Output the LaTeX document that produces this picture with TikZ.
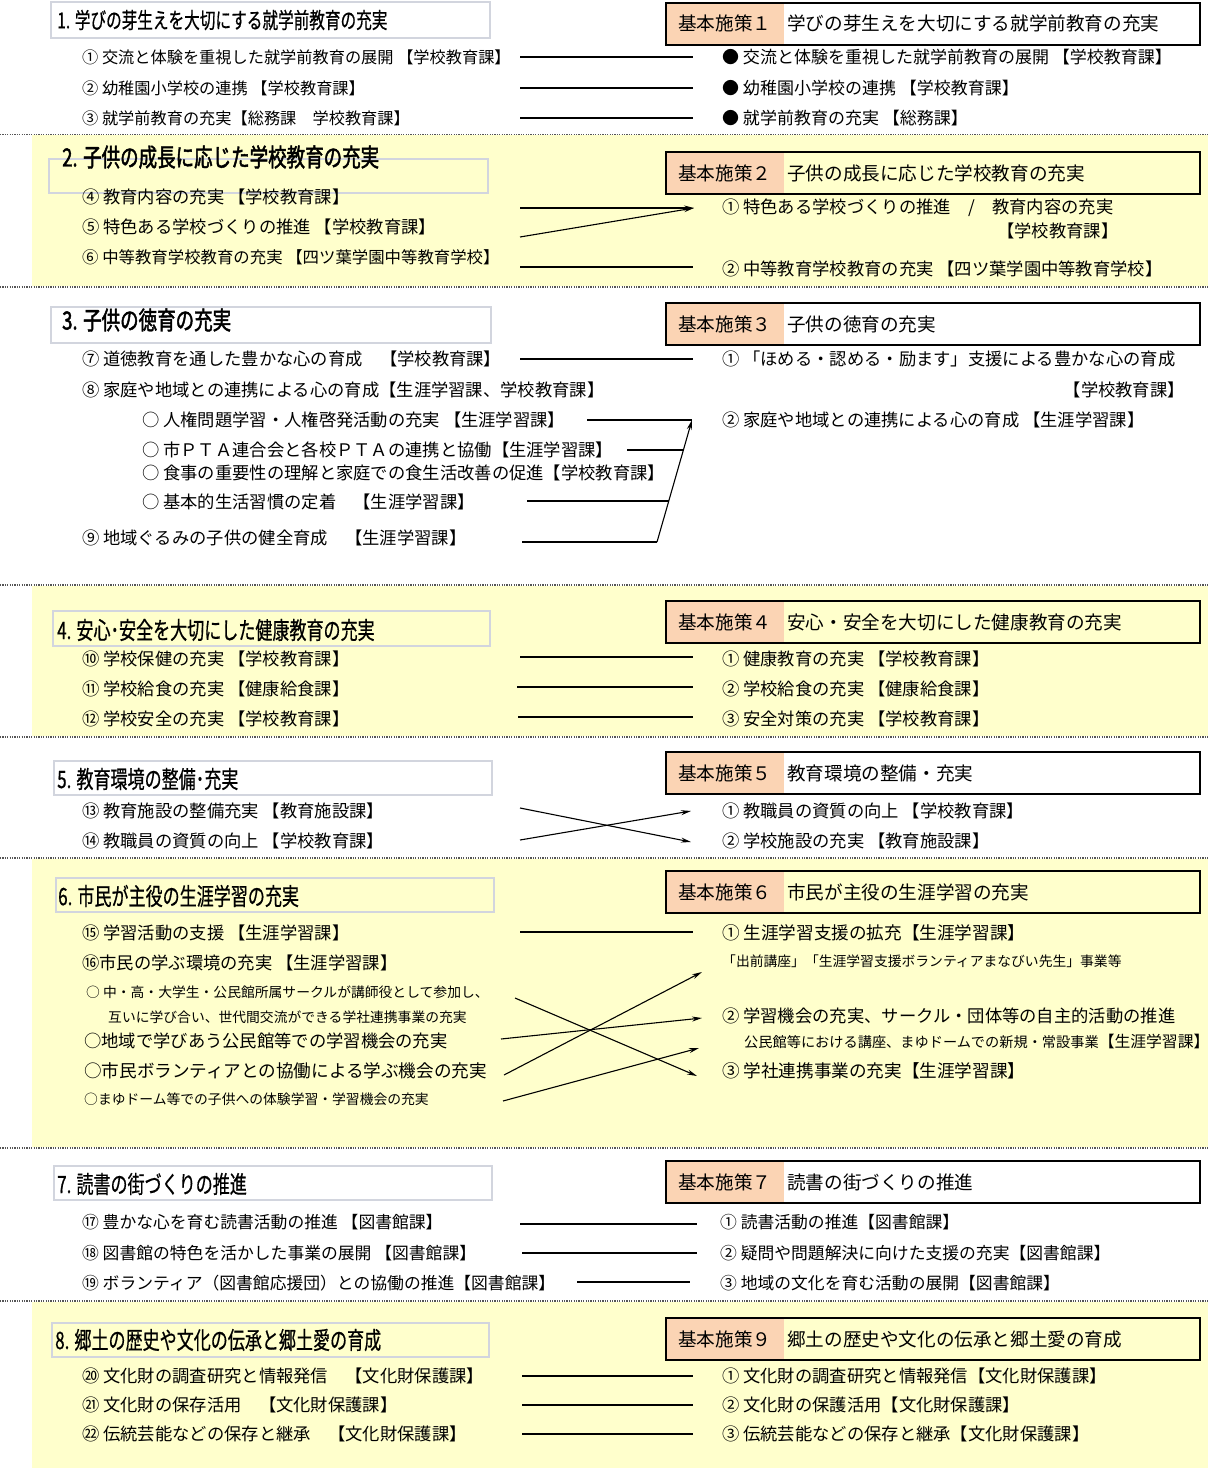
\documentclass[tikz,border=0pt]{standalone}
\usepackage{fontspec}
\setmainfont{Noto Sans CJK JP}
\newfontfamily\hdfont[FakeStretch=0.71,FakeBold=0.6]{Noto Sans CJK JP}
\newfontfamily\hdbfont[FakeStretch=0.74,FakeBold=1.8]{Noto Sans CJK JP}
\usetikzlibrary{arrows.meta}
\newcommand\myfs[1]{\fontsize{#1}{#1}\selectfont}
\definecolor{yel}{HTML}{FFFFCC}
\definecolor{peach}{HTML}{FBD4B4}
\definecolor{boxgray}{HTML}{D2D5DE}
\definecolor{sepgray}{HTML}{555555}
\tikzset{
  it/.style={anchor=west,inner sep=0pt,font=\myfs{17.3}},
  its/.style={anchor=west,inner sep=0pt,font=\myfs{13.8}},
  hd/.style={anchor=west,inner sep=0pt,font=\hdfont\myfs{24}},
  hdb/.style={anchor=west,inner sep=0pt,font=\hdbfont\myfs{25}},
  kb/.style={anchor=west,inner sep=0pt,font=\myfs{18.6}},
  hbox/.style={draw=boxgray,line width=1.8pt},
  kframe/.style={draw=black,line width=2pt},
  sep/.style={draw=sepgray,line width=1.6pt,dash pattern=on 1.2pt off 1.2pt},
  ln/.style={draw=black,line width=1.1pt},
  arr/.style={ln,-{Stealth[length=10pt,width=5pt]}}
}
% right-hand box: name, centre y, number, title
\newcommand\kbox[4]{%
  \fill[peach] (666,#2-21) rectangle (784,#2+21);
  \draw[kframe] (666,#2-21) rectangle (1200,#2+21);
  \node[kb] (#1n) at (678,#2) {基本施策#3};
  \node[kb] (#1t) at (787,#2) {#4};
}
% connector: name, start, end, style
\newcommand\conn[4][ln]{%
  \coordinate (#2a) at (#3);
  \coordinate (#2b) at (#4);
  \draw[#1] (#2a) -- (#2b);
}
\begin{document}
\begin{tikzpicture}[x=1pt,y=-1pt]
\useasboundingbox (0,0) rectangle (1208,1468);
\fill[white] (0,0) rectangle (1208,1468);
% yellow bands
\fill[yel] (32,135) rectangle (1208,286);
\fill[yel] (32,586) rectangle (1208,736);
\fill[yel] (32,859) rectangle (1208,1147);
\fill[yel] (32,1302) rectangle (1208,1468);
% separators
\foreach \yy in {134.5,287,585,737,858,1148,1301}
  \draw[sep] (0,\yy) -- (1208,\yy);

% ================= Section 1
\draw[hbox] (51,2) rectangle (490,38);
\node[hd,font=\hdfont\myfs{22}] (h1) at (57,20) {1. 学びの芽生えを大切にする就学前教育の充実};
\node[it,font=\myfs{16.2}] (a1) at (82,57) {① 交流と体験を重視した就学前教育の展開 【学校教育課】};
\node[it,font=\myfs{16.2}] (a2) at (82,88) {② 幼稚園小学校の連携 【学校教育課】};
\node[it,font=\myfs{16.2}] (a3) at (82,118) {③ 就学前教育の充実【総務課　学校教育課】};
\kbox{k1}{23.5}{１}{学びの芽生えを大切にする就学前教育の充実}
\node[it,font=\myfs{17}] (b1) at (722,57) {● 交流と体験を重視した就学前教育の展開 【学校教育課】};
\node[it,font=\myfs{17}] (b2) at (722,88) {● 幼稚園小学校の連携 【学校教育課】};
\node[it,font=\myfs{17}] (b3) at (722,118) {● 就学前教育の充実 【総務課】};
\conn{c1}{520,57}{693,57}
\conn{c2}{520,88}{693,88}
\conn{c3}{520,118}{693,118}

% ================= Section 2
\draw[hbox] (49,159) rectangle (488,193);
\node[hdb] (h2) at (62,157) {2. 子供の成長に応じた学校教育の充実};
\node[it] (a4) at (82,197) {④ 教育内容の充実 【学校教育課】};
\node[it] (a5) at (82,227) {⑤ 特色ある学校づくりの推進 【学校教育課】};
\node[it,font=\myfs{16.4}] (a6) at (82,257) {⑥ 中等教育学校教育の充実 【四ツ葉学園中等教育学校】};
\kbox{k2}{173}{２}{子供の成長に応じた学校教育の充実}
\node[it] (b4) at (722,208) {① 特色ある学校づくりの推進　/　教育内容の充実};
\node[it] (b4x) at (997,231) {【学校教育課】};
\node[it] (b5) at (722,269) {② 中等教育学校教育の充実 【四ツ葉学園中等教育学校】};
\conn[arr]{c4}{520,208}{694,208}
\conn[arr]{c5}{520,237}{694,208}
\conn{c6}{520,267}{693,267}

% ================= Section 3
\draw[hbox] (51,307) rectangle (491,343);
\node[hdb] (h3) at (62,320) {3. 子供の徳育の充実};
\node[it] (a7) at (82,359) {⑦ 道徳教育を通した豊かな心の育成　【学校教育課】};
\node[it] (a8) at (82,390) {⑧ 家庭や地域との連携による心の育成【生涯学習課、学校教育課】};
\node[it] (a8a) at (142,420) {○ 人権問題学習・人権啓発活動の充実 【生涯学習課】};
\node[it] (a8b) at (142,450) {○ 市ＰＴＡ連合会と各校ＰＴＡの連携と協働【生涯学習課】};
\node[it] (a8c) at (142,473) {○ 食事の重要性の理解と家庭での食生活改善の促進【学校教育課】};
\node[it] (a8d) at (142,502) {○ 基本的生活習慣の定着　【生涯学習課】};
\node[it] (a9) at (82,538) {⑨ 地域ぐるみの子供の健全育成　【生涯学習課】};
\kbox{k3}{324}{３}{子供の徳育の充実}
\node[it] (b6) at (722,359) {① 「ほめる・認める・励ます」支援による豊かな心の育成};
\node[it,anchor=east] (b6x) at (1185,390) {【学校教育課】};
\node[it] (b7) at (722,420) {② 家庭や地域との連携による心の育成 【生涯学習課】};
\conn{c7}{520,359}{693,359}
\conn{c8}{587,420}{692,420}
\conn{c9}{627,450}{684,450}
\conn{c10}{527,501}{669,501}
\conn{c11}{522,542}{657,542}
\draw[arr] (c11b) -- (c8b);

% ================= Section 4
\draw[hbox] (53,611) rectangle (490,646);
\node[hd] (h4) at (57,630) {4. 安心･安全を大切にした健康教育の充実};
\node[it] (a10) at (82,659) {⑩ 学校保健の充実 【学校教育課】};
\node[it] (a11) at (82,689) {⑪ 学校給食の充実 【健康給食課】};
\node[it] (a12) at (82,719) {⑫ 学校安全の充実 【学校教育課】};
\kbox{k4}{622}{４}{安心・安全を大切にした健康教育の充実}
\node[it] (b10) at (722,659) {① 健康教育の充実 【学校教育課】};
\node[it] (b11) at (722,689) {② 学校給食の充実 【健康給食課】};
\node[it] (b12) at (722,719) {③ 安全対策の充実 【学校教育課】};
\conn{c12}{520,657}{693,657}
\conn{c13}{517,687}{693,687}
\conn{c14}{518,717}{693,717}

% ================= Section 5
\draw[hbox] (54,761) rectangle (492,795);
\node[hd] (h5) at (57,779) {5. 教育環境の整備･充実};
\node[it] (a13) at (82,811) {⑬ 教育施設の整備充実 【教育施設課】};
\node[it] (a14) at (82,841) {⑭ 教職員の資質の向上 【学校教育課】};
\kbox{k5}{773}{５}{教育環境の整備・充実}
\node[it] (b13) at (722,811) {① 教職員の資質の向上 【学校教育課】};
\node[it] (b14) at (722,841) {② 学校施設の充実 【教育施設課】};
\conn[arr]{c15}{520,808}{691,842}
\conn[arr]{c16}{520,840}{691,811}

% ================= Section 6
\draw[hbox] (56,878) rectangle (494,912);
\node[hd] (h6) at (58,896) {6. 市民が主役の生涯学習の充実};
\node[it] (a15) at (82,933) {⑮ 学習活動の支援 【生涯学習課】};
\node[it] (a16) at (82,963) {⑯市民の学ぶ環境の充実 【生涯学習課】};
\node[its] (a16a) at (86,992) {○ 中・高・大学生・公民館所属サークルが講師役として参加し、};
\node[its] (a16ax) at (108,1017) {互いに学び合い、世代間交流ができる学社連携事業の充実};
\node[it] (a16b) at (84,1041) {○地域で学びあう公民館等での学習機会の充実};
\node[it,font=\myfs{17.6}] (a16c) at (84,1071) {○市民ボランティアとの協働による学ぶ機会の充実};
\node[its] (a16d) at (84,1099) {○まゆドーム等での子供への体験学習・学習機会の充実};
\kbox{k6}{892}{６}{市民が主役の生涯学習の充実}
\node[it,font=\myfs{17.6}] (b15) at (722,933) {① 生涯学習支援の拡充【生涯学習課】};
\node[its] (b15x) at (722,961) {「出前講座」「生涯学習支援ボランティアまなびい先生」事業等};
\node[it] (b16) at (722,1016) {② 学習機会の充実、サークル・団体等の自主的活動の推進};
\node[its,font=\myfs{14.2}] (b16x) at (744,1041) {公民館等における講座、まゆドームでの新規・常設事業{\myfs{15.8}【生涯学習課】}};
\node[it,font=\myfs{17.6}] (b17) at (722,1071) {③ 学社連携事業の充実【生涯学習課】};
\conn{c17}{520,932}{693,932}
\conn[arr]{c18}{515,998}{697,1076}
\conn[arr]{c19}{501,1039}{702,1018}
\conn[arr]{c20}{504,1075}{702,972}
\conn[arr]{c21}{503,1101}{699,1048}

% ================= Section 7
\draw[hbox] (54,1166) rectangle (492,1200);
\node[hd] (h7) at (57,1184) {7. 読書の街づくりの推進};
\node[it,font=\myfs{16.8}] (a17) at (82,1222) {⑰ 豊かな心を育む読書活動の推進 【図書館課】};
\node[it,font=\myfs{16.8}] (a18) at (82,1253) {⑱ 図書館の特色を活かした事業の展開 【図書館課】};
\node[it,font=\myfs{16.8}] (a19) at (82,1283) {⑲ ボランティア（図書館応援団）との協働の推進【図書館課】};
\kbox{k7}{1182}{７}{読書の街づくりの推進}
\node[it,font=\myfs{16.8}] (b18) at (720,1222) {① 読書活動の推進【図書館課】};
\node[it,font=\myfs{16.8}] (b19) at (720,1253) {② 疑問や問題解決に向けた支援の充実【図書館課】};
\node[it,font=\myfs{16.8}] (b20) at (720,1283) {③ 地域の文化を育む活動の展開【図書館課】};
\conn{c22}{520,1224}{697,1224}
\conn{c23}{522,1253}{697,1253}
\conn{c24}{577,1282}{690,1282}

% ================= Section 8
\draw[hbox] (52,1323) rectangle (489,1357);
\node[hd] (h8) at (55,1340) {8. 郷土の歴史や文化の伝承と郷土愛の育成};
\node[it] (a20) at (82,1376) {⑳ 文化財の調査研究と情報発信　【文化財保護課】};
\node[it] (a21) at (82,1405) {㉑ 文化財の保存活用　【文化財保護課】};
\node[it] (a22) at (82,1434) {㉒ 伝統芸能などの保存と継承　【文化財保護課】};
\kbox{k9}{1339}{９}{郷土の歴史や文化の伝承と郷土愛の育成}
\node[it] (b21) at (722,1376) {① 文化財の調査研究と情報発信【文化財保護課】};
\node[it] (b22) at (722,1405) {② 文化財の保護活用【文化財保護課】};
\node[it] (b23) at (722,1434) {③ 伝統芸能などの保存と継承【文化財保護課】};
\conn{c25}{522,1376}{693,1376}
\conn{c26}{522,1405}{693,1405}
\conn{c27}{522,1434}{693,1434}
\end{tikzpicture}
\end{document}
